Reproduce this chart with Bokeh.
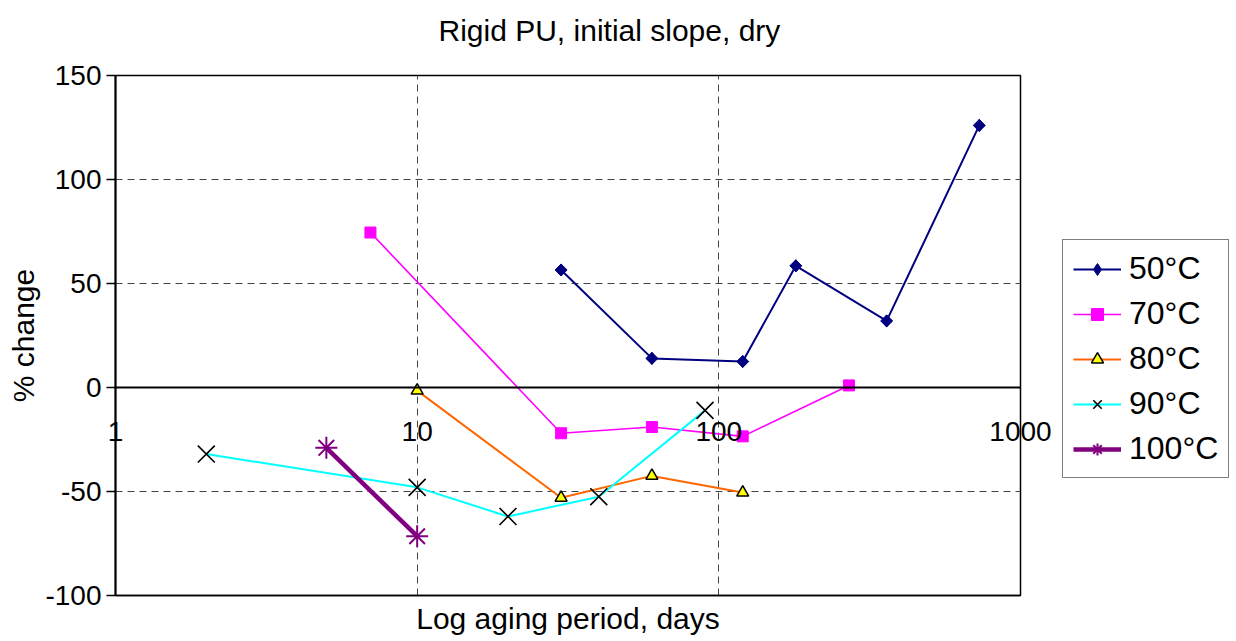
import math
from bokeh.plotting import figure
from bokeh.models import (FixedTicker, Legend, LegendItem, Span, Title,
                          CustomJSTickFormatter, Range1d, ColumnDataSource)
from bokeh.embed import file_html
from bokeh.resources import INLINE

# ---- data ----
days_50 = [30, 60, 120, 180, 360, 730]
chg_50 = [56.5, 14, 12.5, 58.5, 32, 126]
days_70 = [7, 30, 60, 120, 270]
chg_70 = [74.5, -22, -19, -23.5, 1]
days_80 = [10, 30, 60, 120]
chg_80 = [-1.5, -53, -42.5, -50.5]
days_90 = [2, 10, 20, 40, 90]
chg_90 = [-32, -48, -62, -52.5, -11]
days_100 = [5, 10]
chg_100 = [-29, -71.5]
x_ticks = [1, 10, 100, 1000]
y_ticks = [-100, -50, 0, 50, 100, 150]
title_text = "Rigid PU, initial slope, dry"

FONT = "Liberation Sans"

p = figure(frame_width=905, frame_height=520, x_axis_type="log",
           x_range=Range1d(1, 1000), y_range=Range1d(-100, 150),
           output_backend="svg", toolbar_location=None,
           min_border_left=115, min_border_right=208,
           min_border_top=75, min_border_bottom=44,
           title=None)
p.outline_line_color = "black"
p.outline_line_width = 1.5
p.background_fill_color = "white"
p.border_fill_color = "white"

# title: a blank spacer next to the frame, then the real title above it
spacer = Title(text=" ", text_font=FONT, text_font_size="24px", standoff=0)
p.add_layout(spacer, "above")
ttl = Title(text=title_text, text_font=FONT, text_font_size="30px",
            text_font_style="normal", text_color="black", align="left",
            offset=323, standoff=0)
p.add_layout(ttl, "above")

# x axis: tick labels pulled up to sit under the zero line
xa = p.xaxis[0]
xa.ticker = FixedTicker(ticks=x_ticks)
xa.formatter = CustomJSTickFormatter(code="return tick.toString();")
xa.major_tick_in = 0
xa.major_tick_out = 0
xa.minor_tick_in = 0
xa.minor_tick_out = 0
xa.axis_line_color = "black"
xa.axis_line_width = 1.5
xa.major_label_standoff = -174
xa.major_label_text_font = FONT
xa.major_label_text_font_size = "28px"
xa.major_label_text_color = "black"
xa.axis_label = "Log aging period, days"
xa.axis_label_text_font = FONT
xa.axis_label_text_font_size = "30px"
xa.axis_label_text_font_style = "normal"
xa.axis_label_text_color = "black"
xa.axis_label_standoff = 158

# zero line acting as x axis line
p.add_layout(Span(location=0, dimension="width", line_color="black",
                  line_width=2))

# y axis
ya = p.yaxis[0]
ya.ticker = FixedTicker(ticks=y_ticks)
ya.formatter = CustomJSTickFormatter(code="return tick.toString();")
ya.major_tick_in = 0
ya.major_tick_out = 9
ya.minor_tick_in = 0
ya.minor_tick_out = 0
ya.major_tick_line_width = 1.5
ya.axis_line_color = "black"
ya.axis_line_width = 2
ya.major_label_standoff = 5
ya.major_label_text_font = FONT
ya.major_label_text_font_size = "28px"
ya.major_label_text_color = "black"
ya.axis_label = "% change"
ya.axis_label_text_font = FONT
ya.axis_label_text_font_size = "30px"
ya.axis_label_text_font_style = "normal"
ya.axis_label_text_color = "black"
ya.axis_label_standoff = 2

# grids
p.xgrid.ticker = FixedTicker(ticks=[10, 100])
p.ygrid.ticker = FixedTicker(ticks=[-50, 50, 100])
for g in (p.xgrid, p.ygrid):
    g.grid_line_color = "#444444"
    g.grid_line_dash = "7 5"
    g.grid_line_width = 1

# series
src50 = ColumnDataSource(dict(x=days_50, y=chg_50))
l50 = p.line("x", "y", source=src50, line_color="#000080", line_width=2)
# diamond used for the legend; hidden under the rotated squares in the plot
k50 = p.scatter("x", "y", source=src50, marker="diamond", size=12,
                fill_color="#000080", line_color="#000080")
m50 = p.scatter("x", "y", source=src50, marker="square", size=8.5,
                angle=math.pi / 4, fill_color="#000080", line_color="#000080")
l70 = p.line(days_70, chg_70, line_color="#FF00FF", line_width=1.6)
m70 = p.scatter(days_70, chg_70, marker="square", size=11,
                fill_color="#FF00FF", line_color="#FF00FF")
l80 = p.line(days_80, chg_80, line_color="#FF6600", line_width=2)
m80 = p.scatter(days_80, chg_80, marker="triangle", size=12,
                fill_color="#FFFF00", line_color="black", line_width=1.5)
l90 = p.line(days_90, chg_90, line_color="#00FFFF", line_width=2)
m90 = p.scatter(days_90, chg_90, marker="x", size=24,
                fill_color=None, line_color="black", line_width=1.6)
l100 = p.line(days_100, chg_100, line_color="#800080", line_width=4.5)
m100 = p.scatter(days_100, chg_100, marker="asterisk", size=22,
                 line_color="#800080", line_width=2)

legend = Legend(items=[
    LegendItem(label="50°C", renderers=[l50, k50]),
    LegendItem(label="70°C", renderers=[l70, m70]),
    LegendItem(label="80°C", renderers=[l80, m80]),
    LegendItem(label="90°C", renderers=[l90, m90]),
    LegendItem(label="100°C", renderers=[l100, m100]),
], location=(42, 117))
legend.label_text_font = FONT
legend.label_text_font_size = "32px"
legend.label_text_color = "black"
legend.glyph_width = 48
legend.glyph_height = 30
legend.label_height = 30
legend.spacing = 8
legend.padding = 10
legend.margin = 0
legend.label_standoff = 8
legend.border_line_color = "black"
legend.border_line_width = 1
legend.background_fill_color = "white"
p.add_layout(legend, "right")

open("out.html", "w").write(file_html(p, INLINE))
